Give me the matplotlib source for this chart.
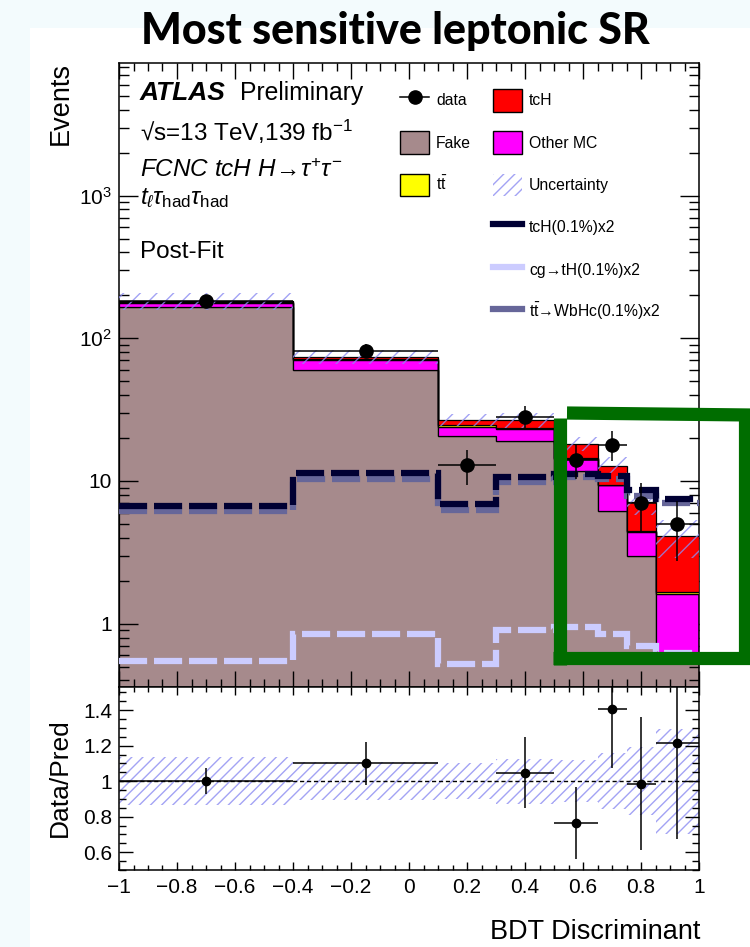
import numpy as np
import matplotlib.pyplot as plt
from matplotlib.patches import Patch, Rectangle
from matplotlib.lines import Line2D
from matplotlib.ticker import FixedLocator, MultipleLocator, NullFormatter

plt.rcParams['font.family'] = ['Liberation Sans', 'DejaVu Sans']
plt.rcParams['mathtext.fontset'] = 'custom'
plt.rcParams['mathtext.rm'] = 'Liberation Sans'
plt.rcParams['mathtext.it'] = 'Liberation Sans:italic'
plt.rcParams['mathtext.bf'] = 'Liberation Sans:bold'
plt.rcParams['hatch.linewidth'] = 1.0

# BINNING AND POST-FIT YIELDS

bin_edges = [-1.0, -0.4, 0.1, 0.3, 0.5, 0.65, 0.75, 0.85, 1.0]
data_counts = [183, 82, 13, 28, 14, 18, 7, 5]
fake = [165, 60, 20.7, 19.1, 11.8, 6.2, 3.0, 0.62]
other_mc = [13, 10, 3.2, 4.0, 2.5, 3.1, 1.4, 1.0]
ttbar = [2.0, 1.5, 0.7, 0.3, 0.2, 0.1, 0.05, 0.05]
tch = [3.0, 3.0, 2.2, 3.3, 3.8, 3.4, 2.65, 2.44]
rel_unc = [0.135, 0.107, 0.10, 0.126, 0.12, 0.157, 0.19, 0.295]

# signal templates, BR(0.1%) scaled x2
sig_tch = [6.7, 11.4, 6.9, 10.6, 11.2, 10.9, 8.6, 7.5]
sig_cg_th = [0.55, 0.85, 0.525, 0.91, 0.95, 0.85, 0.70, 0.62]
sig_tt_wbhc = [6.2, 10.3, 6.3, 9.8, 10.6, 10.4, 7.9, 7.0]

# axis ticks
x_ticks = [-1, -0.8, -0.6, -0.4, -0.2, 0, 0.2, 0.4, 0.6, 0.8, 1]
x_tick_labels = ['\u22121', '\u22120.8', '\u22120.6', '\u22120.4', '\u22120.2', '0',
                 '0.2', '0.4', '0.6', '0.8', '1']
y_ticks = [1, 10, 100, 1000]
y_tick_labels = ['1', '10', '$10^{2}$', '$10^{3}$']
r_ticks = [0.6, 0.8, 1.0, 1.2, 1.4]
r_tick_labels = ['0.6', '0.8', '1', '1.2', '1.4']
r_range = (0.5, 1.53)

C_FAKE = '#a68a8c'
C_OTHER = '#ff00ff'
C_TT = '#ffff00'
C_TCH = '#ff0000'
C_HATCH = (0.55, 0.55, 0.95, 0.8)
C_SIG = '#000033'
C_CG = '#ccccff'
C_WBHC = '#666699'

W, H = 750, 947


def fx(px):
    return px / W


def fy(py):
    return 1 - py / H


edges = np.array(bin_edges)
centers = 0.5 * (edges[1:] + edges[:-1])
half_w = 0.5 * (edges[1:] - edges[:-1])
data = np.array(data_counts, dtype=float)
data_err = np.sqrt(data)

c1 = np.array(fake)
c2 = c1 + np.array(other_mc)
c3 = c2 + np.array(ttbar)
c4 = c3 + np.array(tch)
total = c4
unc = np.array(rel_unc)

fig = plt.figure(figsize=(7.5, 9.47), dpi=100)
fig.patch.set_facecolor('#f3fbfd')
fig.add_artist(Rectangle((fx(30), 0), 1, fy(28), transform=fig.transFigure,
                         facecolor='white', edgecolor='none', zorder=-1))

ax = fig.add_axes([fx(119), fy(687), fx(580), 624 / H])
ax2 = fig.add_axes([fx(119), fy(870), fx(580), 183 / H], sharex=ax)

# STACKED BACKGROUNDS

ax.stairs(c1, edges, baseline=1e-3, fill=True, facecolor=C_FAKE, edgecolor='black', lw=0.9, zorder=1)
ax.stairs(c2, edges, baseline=c1, fill=True, facecolor=C_OTHER, edgecolor='black', lw=0.9, zorder=2)
ax.stairs(c3, edges, baseline=c2, fill=True, facecolor=C_TT, edgecolor='black', lw=0.9, zorder=3)
ax.stairs(c4, edges, baseline=c3, fill=True, facecolor=C_TCH, edgecolor='black', lw=0.9, zorder=4)
ax.stairs(total * (1 + unc), edges, baseline=total * (1 - unc), fill=True, facecolor='none',
          edgecolor=C_HATCH, hatch='//', lw=0, zorder=5)

# signal templates
dash = (0, (4.5, 1.1))
ax.stairs(sig_cg_th, edges, baseline=None, color=C_CG, lw=4.5, linestyle=dash, zorder=6)
ax.stairs(sig_tt_wbhc, edges, baseline=None, color=C_WBHC, lw=4.5, linestyle=dash, zorder=6)
ax.stairs(sig_tch, edges, baseline=None, color=C_SIG, lw=4.5, linestyle=dash, zorder=7)

ax.errorbar(centers, data, xerr=half_w, yerr=data_err, fmt='o', color='black',
            ms=9.5, lw=1.1, capsize=0, zorder=8)

ax.set_yscale('log')
ax.set_xlim(-1, 1)
ax.set_ylim(0.36, 8500)
ax.yaxis.set_major_locator(FixedLocator(y_ticks))
ax.set_yticklabels(y_tick_labels)
ax.yaxis.set_minor_locator(FixedLocator([m * 10.0 ** e for e in range(-1, 4) for m in range(2, 10)]))
ax.yaxis.set_minor_formatter(NullFormatter())
ax.xaxis.set_major_locator(FixedLocator(x_ticks))
ax.xaxis.set_minor_locator(MultipleLocator(0.05))
ax.tick_params(which='both', direction='in', top=True, right=True, labelbottom=False, width=1.0)
ax.tick_params(axis='x', which='major', length=11.5)
ax.tick_params(axis='x', which='minor', length=6)
ax.tick_params(axis='y', which='major', length=13.5, labelsize=15, pad=5)
ax.tick_params(axis='y', which='minor', length=7)
for sp in ax.spines.values():
    sp.set_linewidth(1.1)

# RATIO PANEL

ratio = data / total
ratio_err = data_err / total
# points whose central value falls outside the panel are not drawn
shown = (ratio >= r_range[0]) & (ratio <= r_range[1])
ax2.stairs(1 + unc, edges, baseline=1 - unc, fill=True, facecolor='none',
           edgecolor=C_HATCH, hatch='///', lw=0, zorder=1)
ax2.axhline(1, color='black', lw=1.0, linestyle=(0, (3, 2)), zorder=2)
ax2.errorbar(centers[shown], ratio[shown], xerr=half_w[shown], yerr=ratio_err[shown],
             fmt='o', color='black', ms=6, lw=1.1, capsize=0, zorder=3)
ax2.set_ylim(*r_range)
ax2.set_xticks(x_ticks, x_tick_labels)
ax2.xaxis.set_minor_locator(MultipleLocator(0.05))
ax2.set_yticks(r_ticks, r_tick_labels)
ax2.yaxis.set_minor_locator(MultipleLocator(0.05))
ax2.tick_params(which='both', direction='in', top=True, right=True, width=1.0, labelsize=15)
ax2.tick_params(axis='x', which='major', length=5.5, pad=6)
ax2.tick_params(axis='x', which='minor', length=3.5)
ax2.tick_params(axis='y', which='major', length=10, pad=5)
ax2.tick_params(axis='y', which='minor', length=5)
for sp in ax2.spines.values():
    sp.set_linewidth(1.1)

# AXIS TITLES

fig.text(fx(61), fy(62), 'Events', rotation=90, ha='center', va='top', fontsize=19.5)
fig.text(fx(60), fy(778), 'Data/Pred', rotation=90, ha='center', va='center', fontsize=19)
fig.text(fx(700), fy(939), 'BDT Discriminant', ha='right', va='baseline', fontsize=19.5)
fig.text(fx(395), fy(44), 'Most sensitive leptonic SR', ha='center', va='baseline',
         fontsize=31, family=['Lato', 'DejaVu Sans'], fontweight='black')

# LABELS

fig.text(fx(140), fy(100), 'ATLAS', fontsize=19, style='italic', fontweight='bold', va='baseline')
fig.text(fx(240), fy(100), 'Preliminary', fontsize=17.8, va='baseline')
fig.text(fx(140), fy(141), '\u221as=13 TeV,139 fb$^{\\mathregular{-1}}$', fontsize=17.5, va='baseline')
fig.text(fx(140), fy(177), r'$\mathit{FCNC\ tcH\ H}\!\rightarrow\!\tau^{+}\tau^{-}$', fontsize=17.5, va='baseline')
fig.text(fx(140), fy(204), r'$t_{\ell}\tau_{\mathrm{had}}\tau_{\mathrm{had}}$', fontsize=17.5, va='baseline')
fig.text(fx(140), fy(258), 'Post-Fit', fontsize=17.5, va='baseline')

# LEGEND

leg_kw = dict(frameon=False, fontsize=11.3, handlelength=1.85, handleheight=1.85,
              labelspacing=1.25, handletextpad=0.45, borderpad=0, borderaxespad=0,
              loc='upper left', bbox_transform=fig.transFigure)
h_left = [
    Line2D([], [], color='black', marker='o', ms=9.5, lw=1.1),
    Patch(facecolor=C_FAKE, edgecolor='black', lw=1.0),
    Patch(facecolor=C_TT, edgecolor='black', lw=1.0),
]
l_left = ['data', 'Fake', r'$\mathrm{t\bar{t}}$']
h_right = [
    Patch(facecolor=C_TCH, edgecolor='black', lw=1.0),
    Patch(facecolor=C_OTHER, edgecolor='black', lw=1.0),
    Patch(facecolor='none', edgecolor=C_HATCH, hatch='///', lw=0),
    Line2D([], [], color=C_SIG, lw=4.5),
    Line2D([], [], color=C_CG, lw=4.5),
    Line2D([], [], color=C_WBHC, lw=4.5),
]
l_right = ['tcH', 'Other MC', 'Uncertainty', 'tcH(0.1%)x2', 'cg\u2192tH(0.1%)x2',
           r'$\mathrm{t\bar{t}}$' + '\u2192WbHc(0.1%)x2']
leg1 = ax.legend(h_left, l_left, bbox_to_anchor=(fx(400), fy(89)), **leg_kw)
ax.add_artist(leg1)
ax.legend(h_right, l_right, bbox_to_anchor=(fx(493), fy(89)), **leg_kw)

# highlight box on the high-score bins
C_MARK = '#006d00'
for (x0, y0), (x1, y1) in [((567, 413), (750, 415)), ((745, 413), (745, 660)),
                           ((553, 658), (750, 658)), ((560, 418), (560, 665))]:
    fig.add_artist(Line2D([fx(x0), fx(x1)], [fy(y0), fy(y1)], transform=fig.transFigure,
                          color=C_MARK, lw=9.5, solid_capstyle='butt', zorder=20))

fig.savefig('out.png', dpi=100)
